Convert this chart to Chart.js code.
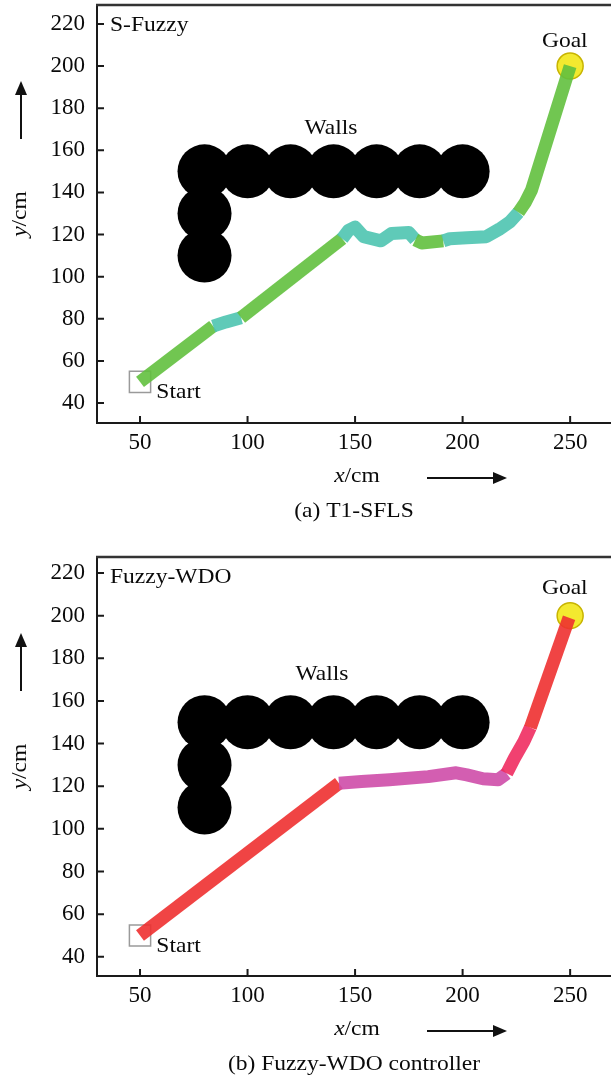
<!DOCTYPE html>
<html>
<head>
<meta charset="utf-8">
<script src="https://cdn.jsdelivr.net/npm/chart.js@4/dist/chart.umd.min.js"></script>
<style>
  body { margin: 0; background: #fff; }
  .panel { width: 611px; height: 540px; }
</style>
</head>
<body>
<div class="panel"><canvas id="chartA" width="611" height="540"></canvas></div>
<div class="panel"><canvas id="chartB" width="611" height="540"></canvas></div>
<script>
// tick labels
const xTicks = [50, 100, 150, 200, 250];
const yTicks = [40, 60, 80, 100, 120, 140, 160, 180, 200, 220];

// wall circles (centres, cm)
const wallX = [80, 100, 120, 140, 160, 180, 200, 80, 80];
const wallY = [150, 150, 150, 150, 150, 150, 150, 130, 110];

const startXY = [50, 50];
const goalXY = [250, 200];

// (a) T1-SFLS robot path
const pathAX = [50, 84, 90, 97, 144, 147, 150, 154, 162, 167, 175, 178, 181, 191, 194, 202, 211, 217, 222, 226, 229, 232, 250];
const pathAY = [50, 76.5, 78.5, 80.5, 118, 122, 123.5, 119, 117, 120.5, 121, 117.5, 116, 117, 118, 118.5, 119, 122.5, 126, 130.5, 135, 141, 200];

// (b) Fuzzy-WDO robot path
const pathBX = [50, 142.5, 153, 166, 184, 197, 202, 209.5, 216.5, 220.5, 224, 228.5, 231.5, 249.5];
const pathBY = [50, 121.4, 122.2, 123, 124.5, 126.3, 125.3, 123.5, 123, 126, 133, 141, 147.5, 199];

const SERIF = '"Liberation Serif", "Times New Roman", serif';
const STRETCH = 1.12;

function toPoints(xs, ys) {
  return xs.map((x, i) => ({ x: x, y: ys[i] }));
}

function colorA(x) {
  if ((x >= 84 && x < 97) || (x >= 144 && x < 177) || (x >= 191 && x < 226)) return 'rgba(78,196,176,0.9)';
  return 'rgba(98,192,62,0.9)';
}

function colorB(x) {
  if (x >= 142 && x < 218) return 'rgba(206,76,168,0.9)';
  if (x >= 218 && x < 229) return 'rgba(240,44,96,0.9)';
  return 'rgba(238,48,48,0.9)';
}

// text with a slight horizontal stretch, parts = [[text, italic], ...]
function drawText(ctx, parts, x, y, align, angle) {
  ctx.save();
  ctx.fillStyle = '#0a0a0a';
  ctx.textBaseline = 'alphabetic';
  ctx.textAlign = 'left';
  const fonts = parts.map(p => (p[1] ? 'italic ' : '') + '21px ' + SERIF);
  let total = 0;
  const widths = parts.map((p, i) => {
    ctx.font = fonts[i];
    const w = ctx.measureText(p[0]).width;
    total += w;
    return w;
  });
  ctx.translate(x, y);
  if (angle) ctx.rotate(angle);
  ctx.scale(STRETCH, 1);
  let cx = align === 'left' ? 0 : -total / 2;
  parts.forEach((p, i) => {
    ctx.font = fonts[i];
    ctx.fillText(p[0], cx, 0);
    cx += widths[i];
  });
  ctx.restore();
}

function arrow(ctx, x1, y1, x2, y2) {
  const ang = Math.atan2(y2 - y1, x2 - x1);
  ctx.save();
  ctx.strokeStyle = '#111';
  ctx.fillStyle = '#111';
  ctx.lineWidth = 2;
  ctx.beginPath();
  ctx.moveTo(x1, y1);
  ctx.lineTo(x2 - 10 * Math.cos(ang), y2 - 10 * Math.sin(ang));
  ctx.stroke();
  ctx.translate(x2, y2);
  ctx.rotate(ang);
  ctx.beginPath();
  ctx.moveTo(0, 0);
  ctx.lineTo(-14, -6);
  ctx.lineTo(-14, 6);
  ctx.closePath();
  ctx.fill();
  ctx.restore();
}

const framePlugin = {
  id: 'frame',
  afterDraw(chart, args, opts) {
    const ctx = chart.ctx;
    const a = chart.chartArea;
    const x = chart.scales.x;
    const y = chart.scales.y;
    ctx.save();
    // inward tick marks
    ctx.strokeStyle = '#1a1a1a';
    ctx.lineWidth = 2;
    ctx.beginPath();
    x.ticks.forEach(t => {
      const px = x.getPixelForValue(t.value);
      ctx.moveTo(px, a.bottom);
      ctx.lineTo(px, a.bottom - 7);
    });
    y.ticks.forEach(t => {
      const py = y.getPixelForValue(t.value);
      ctx.moveTo(a.left, py);
      ctx.lineTo(a.left + 7, py);
    });
    ctx.stroke();
    // top edge of the frame
    ctx.strokeStyle = '#333';
    ctx.lineWidth = 2.5;
    ctx.beginPath();
    ctx.moveTo(a.left - 1, a.top);
    ctx.lineTo(a.right, a.top);
    ctx.stroke();
    ctx.restore();

    drawText(ctx, [[opts.corner]], a.left + 13, a.top + 26, 'left');
    drawText(ctx, [['Walls']], x.getPixelForValue(opts.walls[0]), y.getPixelForValue(opts.walls[1]), 'center');
    drawText(ctx, [['Goal']], x.getPixelForValue(opts.goal[0]), y.getPixelForValue(opts.goal[1]), 'center');
    drawText(ctx, [['Start']], x.getPixelForValue(opts.start[0]), y.getPixelForValue(opts.start[1]), 'left');

    const midX = 354;
    drawText(ctx, [['x', true], ['/cm']], midX + 3, a.bottom + 59, 'center');
    arrow(ctx, 427, a.bottom + 55, 507, a.bottom + 55);
    drawText(ctx, [[opts.caption]], midX, a.bottom + 94, 'center');

    const midY = (a.top + a.bottom) / 2;
    drawText(ctx, [['y', true], ['/cm']], 26, midY, 'center', -Math.PI / 2);
    arrow(ctx, 21, a.top + 134, 21, a.top + 76);
  }
};

function buildChart(id, o) {
  const tickFont = { family: SERIF, size: 23 };
  return new Chart(document.getElementById(id), {
    type: 'scatter',
    data: {
      datasets: [
        {
          label: 'path',
          data: toPoints(o.pathX, o.pathY),
          showLine: true,
          pointRadius: 0,
          borderWidth: 13,
          borderColor: o.color(0),
          borderCapStyle: 'butt',
          borderJoinStyle: 'round',
          segment: { borderColor: c => o.color(o.pathX[c.p0DataIndex]) },
          order: 0
        },
        {
          label: 'goal',
          data: [{ x: goalXY[0], y: goalXY[1] }],
          pointRadius: 13,
          pointBackgroundColor: 'rgba(242,232,36,0.95)',
          pointBorderColor: '#c8b400',
          pointBorderWidth: 1.5,
          order: 1
        },
        {
          label: 'start',
          data: [{ x: startXY[0], y: startXY[1] }],
          pointStyle: 'rect',
          pointRadius: 15,
          pointBackgroundColor: 'rgba(255,255,255,0)',
          pointBorderColor: '#9a9a9a',
          pointBorderWidth: 1.5,
          order: 2
        },
        {
          label: 'walls',
          data: toPoints(wallX, wallY),
          pointRadius: 27,
          pointBackgroundColor: '#000',
          pointBorderWidth: 0,
          order: 3
        }
      ]
    },
    options: {
      responsive: false,
      animation: false,
      events: [],
      layout: { autoPadding: false, padding: { top: o.top, right: 0, left: 0, bottom: 0 } },
      plugins: {
        legend: { display: false },
        tooltip: { enabled: false },
        frame: o.text
      },
      scales: {
        x: {
          type: 'linear',
          min: 30,
          max: 269,
          afterBuildTicks: s => { s.ticks = xTicks.map(v => ({ value: v })); },
          afterFit: s => { s.height = o.xAxisH; s.paddingLeft = 0; s.paddingRight = 0; },
          grid: { drawOnChartArea: false, drawTicks: false },
          border: { color: '#1a1a1a', width: 2 },
          ticks: { padding: 6, color: '#0a0a0a', font: tickFont }
        },
        y: {
          type: 'linear',
          min: o.yMin,
          max: o.yMax,
          afterBuildTicks: s => { s.ticks = yTicks.map(v => ({ value: v })); },
          afterFit: s => { s.width = 97; s.paddingTop = 0; s.paddingBottom = 0; },
          grid: { drawOnChartArea: false, drawTicks: false },
          border: { color: '#1a1a1a', width: 2 },
          ticks: { padding: 12, color: '#0a0a0a', font: tickFont }
        }
      }
    },
    plugins: [framePlugin]
  });
}

buildChart('chartA', {
  pathX: pathAX, pathY: pathAY, color: colorA,
  top: 5, xAxisH: 117, yMin: 30.5, yMax: 229,
  text: { corner: 'S-Fuzzy', walls: [138.8, 167.9], goal: [247.5, 209.2], start: [57.6, 42.4], caption: '(a) T1-SFLS' }
});

buildChart('chartB', {
  pathX: pathBX, pathY: pathBY, color: colorB,
  top: 17, xAxisH: 104, yMin: 31, yMax: 227.5,
  text: { corner: 'Fuzzy-WDO', walls: [134.6, 169.7], goal: [247.5, 210], start: [57.6, 42.3], caption: '(b) Fuzzy-WDO controller' }
});
</script>
</body>
</html>
